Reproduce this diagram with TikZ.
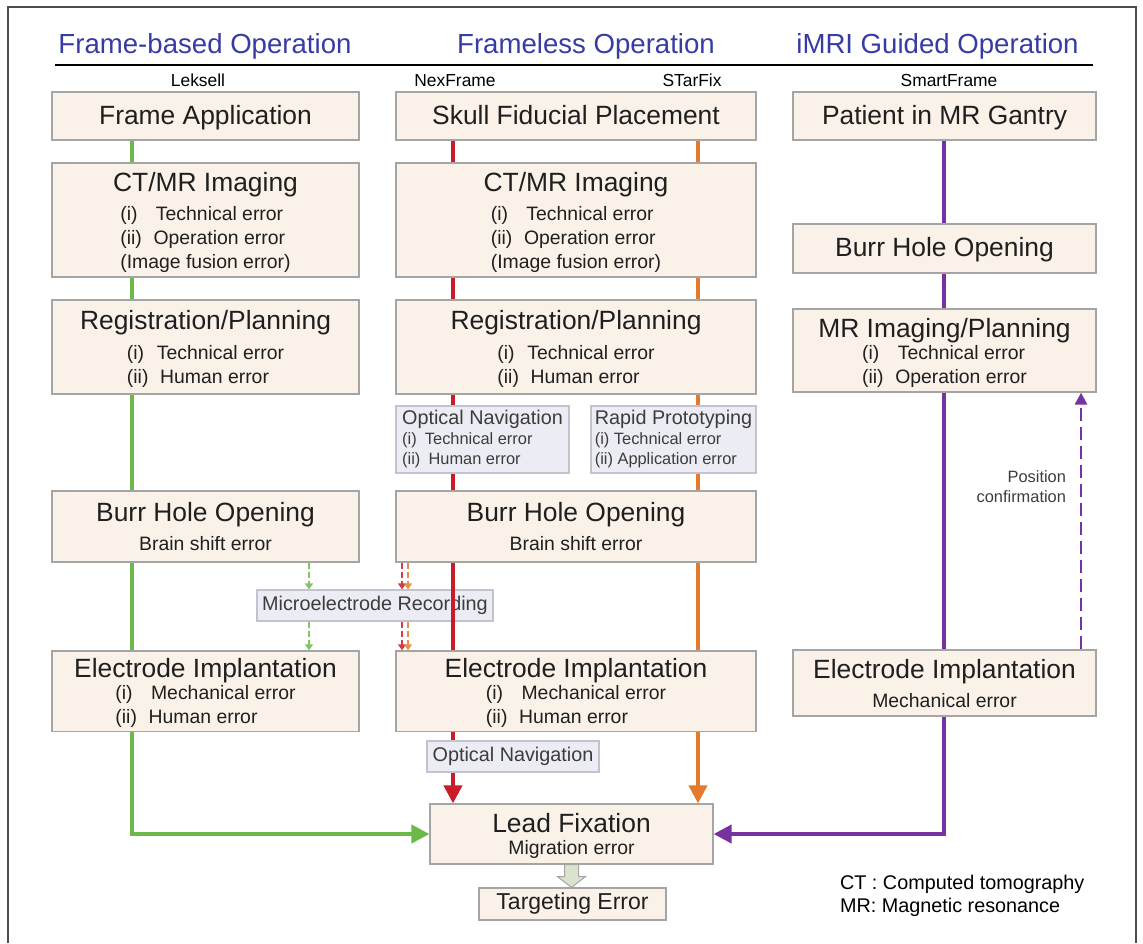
\documentclass[tikz,border=0pt]{standalone}
\usepackage{fontspec}
\setmainfont{Liberation Sans}
\usepackage{xcolor}
\usepackage{tikz}
\usetikzlibrary{arrows.meta}
\usetikzlibrary{positioning,calc}
\definecolor{hdblue}{RGB}{55,60,165}
\definecolor{boxfill}{RGB}{250,241,232}
\definecolor{boxline}{RGB}{165,165,165}
\definecolor{notefill}{RGB}{236,236,244}
\definecolor{noteline}{RGB}{195,195,208}
\definecolor{tgfill}{RGB}{218,228,205}
\definecolor{lkgreen}{RGB}{108,184,72}
\definecolor{nxred}{RGB}{200,28,42}
\definecolor{sforange}{RGB}{226,124,44}
\definecolor{smpurple}{RGB}{118,50,160}
\definecolor{textgray}{RGB}{60,60,60}
\newcommand{\errs}[1]{{\fontsize{9.7}{12}\selectfont\begin{tabular}[t]{@{}l@{}}#1\end{tabular}}}
\newcommand{\notesub}{\fontsize{8.2}{10}\selectfont}
\newcommand{\tline}{\rule{0pt}{13.5pt}}
\newcommand{\oneln}{\rule[-3pt]{0pt}{14pt}}

\begin{document}
\begin{tikzpicture}[x=0.5pt,y=-0.5pt,
    stagebox/.style={draw=boxline,fill=boxfill,line width=0.6pt,inner sep=0pt,
      align=center,text=black!88,font=\fontsize{13.2}{14.5}\selectfont},
    colL/.style={minimum width=153.5pt},
    colM/.style={minimum width=180pt},
    colR/.style={minimum width=151.5pt},
    notebox/.style={draw=noteline,fill=notefill,line width=0.6pt,inner sep=0pt,
      text=textgray,font=\fontsize{9.9}{10}\selectfont},
    flow/.style={line width=2pt},
    flowend/.style={flow,-{Triangle[length=9pt,width=9pt]}},
    merline/.style={line width=0.75pt,dash pattern=on 3pt off 1.5pt,
      -{Triangle[length=3pt,width=4pt]}},
    posline/.style={line width=1.4pt,dash pattern=on 6.5pt off 3pt,
      -{Triangle[length=6pt,width=6pt]}}]
  \useasboundingbox (0,0) rectangle (1143,943);
  \draw[line width=0.8pt,draw=black!70] (8,943) -- (8,7) -- (1136,7) -- (1136,943);

  % headings
  \foreach \x/\name/\txt in {205/hdL/Frame-based Operation,
      586/hdM/Frameless Operation, 937.5/hdR/iMRI Guided Operation}
    \node[anchor=base,text=hdblue,font=\fontsize{13.8}{16}\selectfont] (\name) at (\x,53) {\txt};
  \draw[line width=1.3pt] (55,65) -- (1093,65);
  \foreach \x/\name/\txt in {198/lbLek/Leksell, 455/lbNex/NexFrame,
      692/lbStar/STarFix, 949/lbSmart/SmartFrame}
    \node[anchor=base,font=\fontsize{8.7}{10}\selectfont] (\name) at (\x,86) {\txt};

  % frame-based column
  \node[stagebox,colL,minimum height=24pt] (frameapp) at (205.5,116) {\oneln Frame Application};
  \node[stagebox,colL,minimum height=57pt] (ctL) at (205.5,220)
    {\tline CT/MR Imaging\\\errs{(i)\hspace{.95em}Technical error\\(ii)\hspace{.6em}Operation error\\(Image fusion error)}};
  \node[stagebox,colL,minimum height=47pt] (regL) at (205.5,347)
    {\tline Registration/Planning\\[0.5pt]\errs{(i)\hspace{.65em}Technical error\\(ii)\hspace{.6em}Human error}};
  \node[stagebox,colL,minimum height=35.5pt] (burrL) at (205.5,526.5)
    {\tline Burr Hole Opening\\\errs{Brain shift error}};
  \node[stagebox,colL,minimum height=40pt] (elecL) at (205.5,691)
    {\tline Electrode Implantation\\[-3.5pt]\errs{(i)\hspace{.95em}Mechanical error\\(ii)\hspace{.6em}Human error}};

  % frameless column
  \node[stagebox,colM,minimum height=24pt] (skull) at (576,116) {\oneln Skull Fiducial Placement};
  \node[stagebox,colM,minimum height=57pt] (ctM) at (576,220)
    {\tline CT/MR Imaging\\\errs{(i)\hspace{.95em}Technical error\\(ii)\hspace{.6em}Operation error\\(Image fusion error)}};
  \node[stagebox,colM,minimum height=47pt] (regM) at (576,347)
    {\tline Registration/Planning\\[0.5pt]\errs{(i)\hspace{.65em}Technical error\\(ii)\hspace{.6em}Human error}};
  \node[notebox,align=left,minimum width=86.5pt,minimum height=33.5pt] (optM) at (482.5,439.5)
    {Optical Navigation\\{\notesub(i)\enspace Technical error}\\{\notesub(ii)\enspace Human error}};
  \node[notebox,align=left,minimum width=82.5pt,minimum height=33.5pt] (rapid) at (673.5,439.5)
    {Rapid Prototyping\\{\notesub(i) Technical error}\\{\notesub(ii) Application error}};
  \node[stagebox,colM,minimum height=35.5pt] (burrM) at (576,526.5)
    {\tline Burr Hole Opening\\\errs{Brain shift error}};
  \node[notebox,minimum width=118pt,minimum height=15.5pt] (micro) at (375,605.5)
    {Microelectrode Recording};
  \node[stagebox,colM,minimum height=40pt] (elecM) at (576,691)
    {\tline Electrode Implantation\\[-3.5pt]\errs{(i)\hspace{.95em}Mechanical error\\(ii)\hspace{.6em}Human error}};
  \node[notebox,minimum width=86pt,minimum height=15.5pt] (optB) at (513,756.5)
    {Optical Navigation};

  % iMRI column
  \node[stagebox,colR,minimum height=24pt] (patient) at (944.5,116) {\oneln Patient in MR Gantry};
  \node[stagebox,colR,minimum height=24.5pt] (burrR) at (944.5,248.5) {\oneln Burr Hole Opening};
  \node[stagebox,colR,minimum height=41.5pt] (mrR) at (944.5,350.5)
    {\tline MR Imaging/Planning\\[-3.5pt]\errs{(i)\hspace{.95em}Technical error\\(ii)\hspace{.6em}Operation error}};
  \node[stagebox,colR,minimum height=33pt] (elecR) at (944.5,683)
    {\tline Electrode Implantation\\\errs{Mechanical error}};

  % common end
  \node[stagebox,minimum width=141.5pt,minimum height=30pt] (lead) at (571.5,834)
    {\tline Lead Fixation\\[-3.5pt]\errs{Migration error}};
  \node[stagebox,minimum width=93.5pt,minimum height=16pt,
        font=\fontsize{11.5}{13}\selectfont] (target) at (572.5,904) {Targeting Error};

  \node[anchor=base west,font=\fontsize{9.9}{11}\selectfont] (legCT) at (833,889) {CT : Computed tomography};
  \node[anchor=base west,font=\fontsize{9.9}{11}\selectfont] (legMR) at (833,912) {MR: Magnetic resonance};
  \node[anchor=east,align=right,text=textgray,font=\fontsize{8.2}{10}\selectfont] (poslbl) at (1073,487)
    {Position\\confirmation};

  % track positions
  \coordinate (gx) at (132,0);
  \coordinate (rx) at (453,0);
  \coordinate (ox) at (698,0);
  \coordinate (px) at (944,0);
  \coordinate (mgx) at (309,0);
  \coordinate (mrx) at (402,0);
  \coordinate (mox) at (408,0);
  \coordinate (pcx) at (1081,0);

  % connectors
  \foreach \a/\b in {frameapp/ctL, ctL/regL, regL/burrL, burrL/elecL}
    \draw[flow,lkgreen] (\a.south -| gx) -- (\b.north -| gx);
  \foreach \a/\b in {skull/ctM, ctM/regM, regM/optM, optM/burrM, burrM/elecM, elecM/optB}
    \draw[flow,nxred] (\a.south -| rx) -- (\b.north -| rx);
  \foreach \a/\b in {skull/ctM, ctM/regM, regM/rapid, rapid/burrM, burrM/elecM}
    \draw[flow,sforange] (\a.south -| ox) -- (\b.north -| ox);
  \foreach \a/\b in {patient/burrR, burrR/mrR, mrR/elecR}
    \draw[flow,smpurple] (\a.south -| px) -- (\b.north -| px);

  \draw[flowend,lkgreen] (elecL.south -| gx) |- (lead.west);
  \draw[flowend,nxred] (optB.south -| rx) -- (lead.north -| rx);
  \draw[flowend,sforange] (elecM.south -| ox) -- (lead.north -| ox);
  \draw[flowend,smpurple] (elecR.south -| px) |- (lead.east);

  % microelectrode recording
  \draw[merline,lkgreen!85] (burrL.south -| mgx) -- (micro.north -| mgx);
  \draw[merline,lkgreen!85] (micro.south -| mgx) -- (elecL.north -| mgx);
  \draw[merline,nxred!85] (burrM.south -| mrx) -- (micro.north -| mrx);
  \draw[merline,nxred!85] (micro.south -| mrx) -- (elecM.north -| mrx);
  \draw[merline,sforange!85] (burrM.south -| mox) -- (micro.north -| mox);
  \draw[merline,sforange!85] (micro.south -| mox) -- (elecM.north -| mox);

  \draw[posline,smpurple] (elecR.north -| pcx) -- (mrR.south -| pcx);

  \draw[draw=boxline,fill=tgfill,line width=0.5pt]
    ($(lead.south)+(-7,0)$) -- ++(0,12) -- ++(-7,0) -- (lead.south |- target.north)
    -- ($(lead.south)+(14,12)$) -- ++(-7,0) -- ++(0,-12) -- cycle;
\end{tikzpicture}
\end{document}
